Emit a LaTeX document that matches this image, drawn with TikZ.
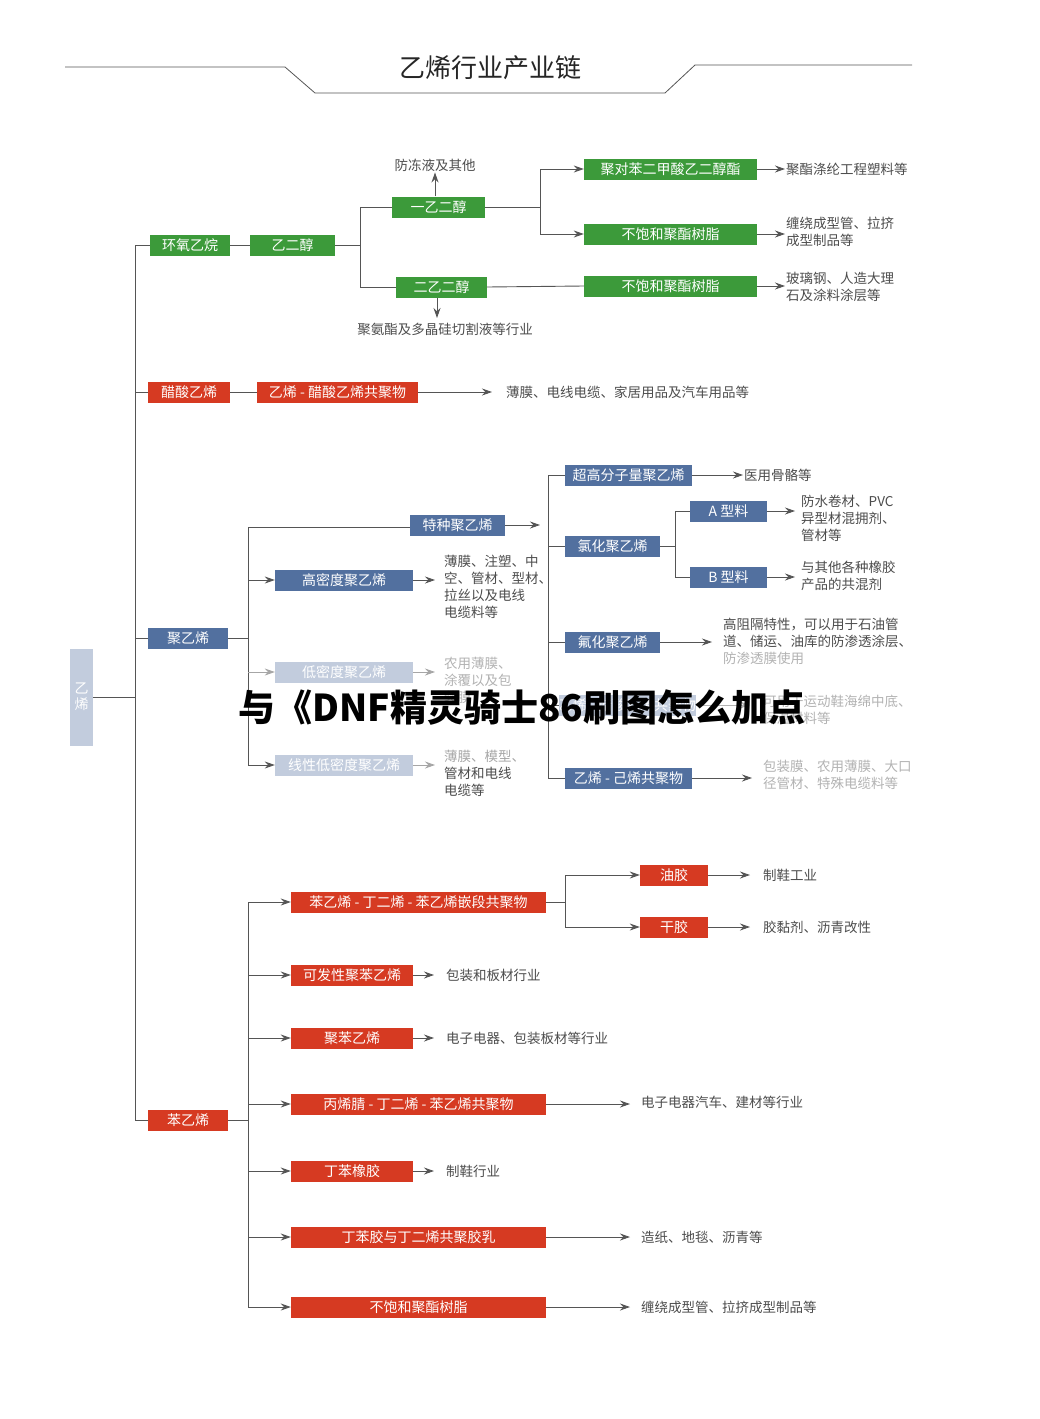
\documentclass[tikz,border=0pt]{standalone}
\usepackage{fontspec}
\setmainfont{Noto Sans CJK SC}
\usetikzlibrary{arrows.meta}
\definecolor{gr}{HTML}{3C9A3A}
\definecolor{rd}{HTML}{D63A22}
\definecolor{bl}{HTML}{52709F}
\definecolor{fb}{HTML}{C2CCDD}
\definecolor{ln}{HTML}{555555}
\begin{document}
\begin{tikzpicture}[x=1pt,y=-1pt,
  bx/.style={fill=#1,text=white,minimum height=21pt,inner sep=0pt,font=\fontsize{14}{16}\selectfont},
  tx/.style={anchor=west,align=left,text=ln!90!black,font=\fontsize{13.5}{17}\selectfont,inner sep=1pt},
  ftx/.style={tx,text=black!30},
  cn/.style={draw=ln,line width=0.9pt},
  ar/.style={cn,-{Stealth[length=10pt,width=7pt]}}]
\useasboundingbox (0,0) rectangle (1040,1419);
\newcommand\bx[6]{\node[bx=#5,minimum width={#3-#2}] (#1) at ({(#2+#3)/2},#4) {#6};}
% title
\node[font=\fontsize{26}{30}\selectfont,text=black!85] (title) at (490,68) {乙烯行业产业链};
\draw[ln,line width=0.8pt] (65,67) -- (285,67) -- (315,93) -- (665,93) -- (695,65) -- (912,65);
% root
\node[fill=fb,text=white,minimum width=23pt,minimum height=97pt,inner sep=0pt,align=center,font=\fontsize{14}{16}\selectfont] (root) at (81.5,697) {乙\\烯};
\coordinate (mt) at (135,245); \coordinate (mb) at (135,1120);
\draw[cn] (mt) -- (mb);
\draw[cn] (root.east) -- (135,697);
% level 1
\bx{hy}{150}{230}{245}{gr}{环氧乙烷}
\bx{cs}{148}{230}{392}{rd}{醋酸乙烯}
\bx{pe}{148}{228}{638}{bl}{聚乙烯}
\bx{st}{148}{228}{1120}{rd}{苯乙烯}
\draw[cn] (mt) -- (hy.west); \draw[cn] (135,392) -- (cs.west);
\draw[cn] (135,638) -- (pe.west); \draw[cn] (mb) -- (st.west);
% green branch
\bx{eg}{250}{335}{245}{gr}{乙二醇}
\draw[cn] (hy) -- (eg);
\bx{meg}{392}{485}{207}{gr}{一乙二醇}
\bx{deg}{396}{487}{287}{gr}{二乙二醇}
\draw[cn] (eg.east) -- (360,245) (360,207) -- (360,287);
\draw[cn] (360,207) -- (meg.west); \draw[cn] (360,287) -- (deg.west);
\node[tx,anchor=center] (afz) at (435,165) {防冻液及其他};
\node[tx,anchor=center] (pu) at (445,329) {聚氨酯及多晶硅切割液等行业};
\draw[ar] (meg.north -| 435,0) -- (afz.south);
\draw[ar] (deg.south -| 437,0) -- (437,318);
\bx{pet}{584}{757}{169}{gr}{聚对苯二甲酸乙二醇酯}
\bx{up1}{584}{757}{234}{gr}{不饱和聚酯树脂}
\bx{up2}{584}{757}{286}{gr}{不饱和聚酯树脂}
\draw[cn] (meg.east) -- (540,207) (540,169) -- (540,234);
\draw[ar] (540,169) -- (pet.west); \draw[ar] (540,234) -- (up1.west);
\draw[cn] (deg.east) -- (up2.west);
\node[tx] (t1) at (785,169) {聚酯涤纶工程塑料等};
\node[tx] (t2) at (785,232) {缠绕成型管、拉挤\\成型制品等};
\node[tx] (t3) at (785,287) {玻璃钢、人造大理\\石及涂料涂层等};
\draw[ar] (pet.east) -- (t1.west); \draw[ar] (up1.east) -- (t2.west|-up1.east); \draw[ar] (up2.east) -- (t3.west|-up2.east);
% EVA
\bx{eva}{257}{418}{392}{rd}{乙烯 - 醋酸乙烯共聚物}
\draw[cn] (cs) -- (eva);
\node[tx] (t4) at (505,392) {薄膜、电线电缆、家居用品及汽车用品等};
\draw[ar] (eva.east) -- (492,392);
% PE
\draw[cn] (pe.east) -- (248,638) (248,527) -- (248,765);
\bx{tz}{410}{505}{525}{bl}{特种聚乙烯}
\draw[cn] (248,527) -- (tz.west|-248,527);
\draw[ar] (tz.east) -- (540,525);
\bx{hd}{275}{413}{580}{bl}{高密度聚乙烯}
\bx{ld}{275}{413}{672}{fb}{低密度聚乙烯}
\bx{lld}{275}{413}{765}{fb}{线性低密度聚乙烯}
\draw[ar] (248,580) -- (hd.west); \draw[ar,draw=black!35] (248,672) -- (ld.west); \draw[ar] (248,765) -- (lld.west);
\node[tx] (t5) at (443,587) {薄膜、注塑、中\\空、管材、型材、\\拉丝以及电线\\电缆料等};
\node[ftx] (t6) at (443,680) {农用薄膜、\\涂覆以及包\\装膜};
\node[tx] (t7) at (443,773) {\textcolor{black!35}{薄膜、模型、}\\管材和电线\\电缆等};
\draw[ar] (hd.east) -- (435,580); \draw[ar,draw=black!35] (ld.east) -- (435,672); \draw[ar,draw=black!35] (lld.east) -- (435,765);
% special PE
\draw[cn] (548,475) -- (548,778);
\bx{uh}{565}{692}{475}{bl}{超高分子量聚乙烯}
\bx{cpe}{565}{660}{546}{bl}{氯化聚乙烯}
\bx{fpe}{565}{660}{642}{bl}{氟化聚乙烯}
\bx{hid}{565}{690}{705}{fb}{乙烯 - 醋酸乙烯共聚物}
\bx{eh}{565}{692}{778}{bl}{乙烯 - 己烯共聚物}
\foreach \n/\y in {uh/475,cpe/546,fpe/642,hid/705,eh/778} \draw[cn] (548,\y) -- (\n.west);
\node[tx] (t8) at (743,475) {医用骨骼等};
\draw[ar] (uh.east) -- (t8.west);
\draw[cn] (cpe.east) -- (675,546) (675,511) -- (675,577);
\bx{a}{690}{767}{511}{bl}{A 型料}
\bx{b}{690}{767}{577}{bl}{B 型料}
\draw[cn] (675,511) -- (a.west); \draw[cn] (675,577) -- (b.west);
\node[tx] (t9) at (800,518) {防水卷材、PVC\\异型材混拥剂、\\管材等};
\node[tx] (t10) at (800,576) {与其他各种橡胶\\产品的共混剂};
\draw[ar] (a.east) -- (795,511); \draw[ar] (b.east) -- (795,577);
\node[tx] (t11) at (722,641) {高阻隔特性，可以用于石油管\\道、储运、油库的防渗透涂层、\\\textcolor{black!30}{防渗透膜使用}};
\draw[ar] (fpe.east) -- (712,642);
\node[ftx] (t12) at (762,710) {可用于运动鞋海绵中底、\\保温材料等};
\draw[ar,draw=black!30] (hid.east) -- (750,705);
\node[ftx] (t13) at (762,775) {包装膜、农用薄膜、大口\\径管材、特殊电缆料等};
\draw[ar] (eh.east) -- (752,778);
% styrene
\draw[cn] (st.east) -- (248,1120) (248,902) -- (248,1307);
\bx{sbs}{291}{546}{902}{rd}{苯乙烯 - 丁二烯 - 苯乙烯嵌段共聚物}
\bx{eps}{291}{413}{975}{rd}{可发性聚苯乙烯}
\bx{ps}{291}{413}{1038}{rd}{聚苯乙烯}
\bx{abs}{291}{546}{1104}{rd}{丙烯腈 - 丁二烯 - 苯乙烯共聚物}
\bx{sbr}{291}{413}{1171}{rd}{丁苯橡胶}
\bx{lat}{291}{546}{1237}{rd}{丁苯胶与丁二烯共聚胶乳}
\bx{upr}{291}{546}{1307}{rd}{不饱和聚酯树脂}
\foreach \n/\y in {sbs/902,eps/975,ps/1038,abs/1104,sbr/1171,lat/1237,upr/1307} \draw[ar] (248,\y) -- (\n.west);
\draw[cn] (sbs.east) -- (565,902) (565,875) -- (565,927);
\bx{yj}{640}{708}{875}{rd}{油胶}
\bx{gj}{640}{708}{927}{rd}{干胶}
\draw[ar] (565,875) -- (yj.west); \draw[ar] (565,927) -- (gj.west);
\node[tx] (s1) at (762,875) {制鞋工业};
\node[tx] (s2) at (762,927) {胶黏剂、沥青改性};
\draw[ar] (yj.east) -- (750,875); \draw[ar] (gj.east) -- (750,927);
\node[tx] (s3) at (445,975) {包装和板材行业};
\node[tx] (s4) at (445,1038) {电子电器、包装板材等行业};
\node[tx] (s5) at (640,1102) {电子电器汽车、建材等行业};
\node[tx] (s6) at (445,1171) {制鞋行业};
\node[tx] (s7) at (640,1237) {造纸、地毯、沥青等};
\node[tx] (s8) at (640,1307) {缠绕成型管、拉挤成型制品等};
\draw[ar] (eps.east) -- (434,975); \draw[ar] (ps.east) -- (434,1038);
\draw[ar] (abs.east) -- (630,1104); \draw[ar] (sbr.east) -- (434,1171);
\draw[ar] (lat.east) -- (630,1237); \draw[ar] (upr.east) -- (630,1307);
% overlay
\node[font=\bfseries\fontsize{37}{40}\selectfont,text=black] (wm) at (522,708) {与《DNF精灵骑士86刷图怎么加点};
\end{tikzpicture}
\end{document}
